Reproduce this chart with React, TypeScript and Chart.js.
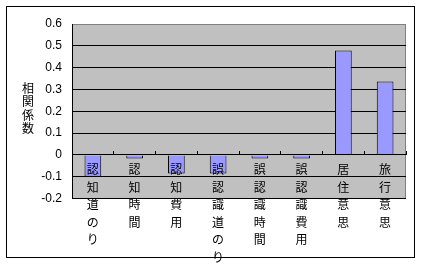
import React, { useEffect, useRef } from 'react';
import { Chart, registerables } from 'chart.js';

Chart.register(...registerables);

const categories = ['認知道のり', '認知時間', '認知費用', '誤認識道のり', '誤認識時間', '誤認識費用', '居住意思', '旅行意思'];
const correlations = [-0.1, -0.017, -0.085, -0.085, -0.017, -0.017, 0.478, 0.336];
const yAxisTitle = '相関係数';
const yMin = -0.2;
const yMax = 0.6;
const yStep = 0.1;

const FONT = '"Liberation Sans", "Noto Sans CJK JP", sans-serif';

export default function App() {
  const ref = useRef<HTMLCanvasElement | null>(null);

  useEffect(() => {
    document.body.style.margin = '0';
    const framePlugin = {
      id: 'framePlugin',
      beforeDraw(chart: any) {
        const { ctx, chartArea } = chart;
        ctx.save();
        ctx.fillStyle = '#ffffff';
        ctx.fillRect(0, 0, chart.width, chart.height);
        ctx.fillStyle = '#C0C0C0';
        ctx.fillRect(chartArea.left, chartArea.top, chartArea.right - chartArea.left, chartArea.bottom - chartArea.top);
        ctx.strokeStyle = '#808080';
        ctx.lineWidth = 1;
        ctx.beginPath();
        ctx.moveTo(Math.round(chartArea.right) - 0.5, chartArea.top);
        ctx.lineTo(Math.round(chartArea.right) - 0.5, chartArea.bottom);
        ctx.stroke();
        ctx.strokeStyle = '#000000';
        ctx.strokeRect(6.5, 6.5, 408, 251);
        // vertical y-axis title
        ctx.fillStyle = '#000000';
        ctx.font = '12px "Noto Sans CJK JP", sans-serif';
        ctx.textAlign = 'center';
        ctx.textBaseline = 'middle';
        const chars = Array.from(yAxisTitle);
        chars.forEach((c, i) => ctx.fillText(c, 28, 88 + i * 13.5));
        ctx.restore();
      },
    };

    const chart = new Chart(ref.current as HTMLCanvasElement, {
      type: 'bar',
      data: {
        labels: categories.map((c) => Array.from(c)),
        datasets: [
          {
            data: correlations,
            backgroundColor: '#9999FF',
            borderColor: '#000000',
            borderWidth: 1,
            barPercentage: 0.4,
            categoryPercentage: 1,
          },
        ],
      },
      options: {
        responsive: false,
        animation: false,
        devicePixelRatio: 1,
        layout: { padding: { left: 0, top: 24, right: 15, bottom: 65.5 } },
        plugins: { legend: { display: false }, tooltip: { enabled: false }, title: { display: false } },
        scales: {
          x: {
            type: 'category',
            position: { y: 0 } as any,
            offset: true,
            grid: {
              display: true,
              drawOnChartArea: false,
              drawTicks: true,
              tickLength: -4,
              color: '#000000',
              offset: true,
              z: 1,
            },
            border: { display: true, color: '#000000', width: 1, z: 1 } as any,
            ticks: {
              color: '#000000',
              font: { family: '"Noto Sans CJK JP", sans-serif', size: 12, lineHeight: 1.46 },
              padding: 10,
              maxRotation: 0,
              minRotation: 0,
              autoSkip: false,
              z: 1,
            },
          },
          y: {
            min: yMin,
            max: yMax,
            afterFit: (scale: any) => {
              scale.width = 72;
            },
            grid: {
              drawTicks: false,
              color: (ctx: any) => (ctx.tick && Math.abs(ctx.tick.value - yMax) < 1e-9 ? '#808080' : '#000000'),
              lineWidth: 1,
            },
            border: { display: true, color: '#000000', width: 1 },
            ticks: {
              stepSize: yStep,
              padding: 10,
              color: '#000000',
              font: { family: FONT, size: 12 },
              callback: (v: any) => (Math.abs(Number(v)) < 1e-9 ? '0' : Number(v).toFixed(1)),
            },
          },
        },
      },
      plugins: [framePlugin],
    });
    return () => chart.destroy();
  }, []);

  return (
    <div style={{ width: 421, height: 264 }}>
      <canvas ref={ref} width={421} height={264} style={{ display: 'block' }} />
    </div>
  );
}
